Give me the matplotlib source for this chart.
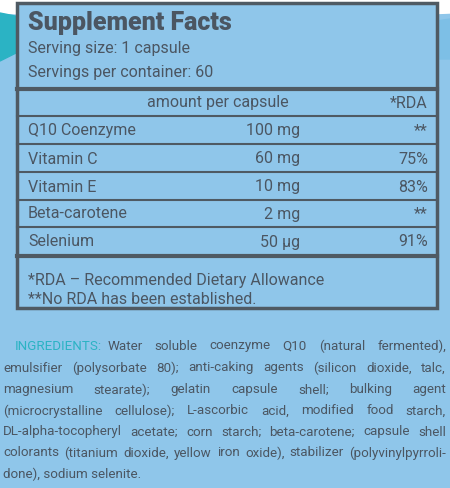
import matplotlib
matplotlib.use("Agg")
import matplotlib.pyplot as plt
import numpy as np
from matplotlib.patches import Rectangle, Polygon

title = "Supplement Facts"
serving = ["Serving size: 1 capsule", "Servings per container: 60"]
header = ["amount per capsule", "*RDA"]
nutrients = ["Q10 Coenzyme", "Vitamin C", "Vitamin E", "Beta-carotene", "Selenium"]
amounts = ["100 mg", "60 mg", "10 mg", "2 mg", "50 µg"]
rda = ["**", "75%", "83%", "**", "91%"]
notes = ["*RDA – Recommended Dietary Allowance", "**No RDA has been established."]
ing_lines = [
    "Water soluble coenzyme Q10 (natural fermented),",
    "emulsifier (polysorbate 80); anti-caking agents (silicon dioxide, talc,",
    "magnesium stearate); gelatin capsule shell; bulking agent",
    "(microcrystalline cellulose); L-ascorbic acid, modified food starch,",
    "DL-alpha-tocopheryl acetate; corn starch; beta-carotene; capsule shell",
    "colorants (titanium dioxide, yellow iron oxide), stabilizer (polyvinylpyrroli-",
    "done), sodium selenite.",
]

BG = "#8fc6ea"; TXT = "#4b5662"; LINE = "#4f5a63"; TEAL = "#2bb3c4"
FONT = ["Roboto", "DejaVu Sans"]

fig = plt.figure(figsize=(4.5, 4.89), dpi=100)
ax = fig.add_axes([0, 0, 1, 1])
ax.set_xlim(0, 450); ax.set_ylim(489, 0); ax.axis("off")
ax.add_patch(Rectangle((0, 0), 450, 489, color=BG, zorder=0))
xs = np.linspace(0, 450, 50)
top = 14 + 6 * np.sin(xs / 450 * np.pi)
ax.add_patch(Polygon(np.column_stack([np.r_[xs, 450, 0], np.r_[top, 0, 0]]), color="white", zorder=1))
ax.add_patch(Polygon([(0, 14), (40, 22), (40, 42), (0, 62)], color=TEAL, zorder=1))
ax.add_patch(Polygon([(437, 22), (450, 20), (450, 60), (437, 60)], color="#7dbfe6", zorder=1))

ax.add_patch(Rectangle((17, 4), 420, 305, facecolor=BG, edgecolor=LINE, lw=2.5, zorder=2))
def hl(y, lw):
    ax.plot([17, 437], [y, y], color=LINE, lw=lw, zorder=3)

def t(x, y, s, size, ha="left", weight="normal", color=TXT):
    return ax.text(x, y, s, fontsize=size, ha=ha, va="center", color=color,
                   family=FONT, weight=weight, zorder=4)

t(28, 23, title, 18, weight="black")
t(28, 49, serving[0], 11.5)
t(28, 72, serving[1], 11.5)
hl(90, 3)
t(218, 103, header[0], 11.5, ha="center")
t(428, 103, header[1], 11.5, ha="right")
hl(117, 1.5)
ys = [131, 159, 187, 214, 242]
for i, (n, a, r) in enumerate(zip(nutrients, amounts, rda)):
    t(28, ys[i], n, 11.5)
    t(300, ys[i], a, 11.5, ha="right")
    t(428, ys[i], r, 11.5, ha="right")
    if i < 4:
        hl(ys[i] + 14, 1.5)
hl(257, 3)
t(28, 280, notes[0], 11.5)
t(28, 300, notes[1], 11.5)

IS = 9.6
fig.canvas.draw()
r = fig.canvas.get_renderer()
def width(s):
    tx = t(0, 0, s, IS)
    w = tx.get_window_extent(renderer=r).width
    tx.remove()
    return w
ly = [346, 368, 390, 411, 432, 453, 474]
lab = t(15, ly[0], "INGREDIENTS:", IS, color=TEAL)
lw0 = lab.get_window_extent(renderer=r).width
for i, line in enumerate(ing_lines):
    words = line.split(" ")
    x0 = 15 + lw0 + 5 if i == 0 else 3
    x1 = 446
    if i == len(ing_lines) - 1:
        t(x0, ly[i], line, IS)
        continue
    ws = [width(w) for w in words]
    gap = ((x1 - x0) - sum(ws)) / (len(words) - 1)
    x = x0
    for w, wd in zip(words, ws):
        t(x, ly[i], w, IS)
        x += wd + gap

fig.savefig("out.png", dpi=100)
